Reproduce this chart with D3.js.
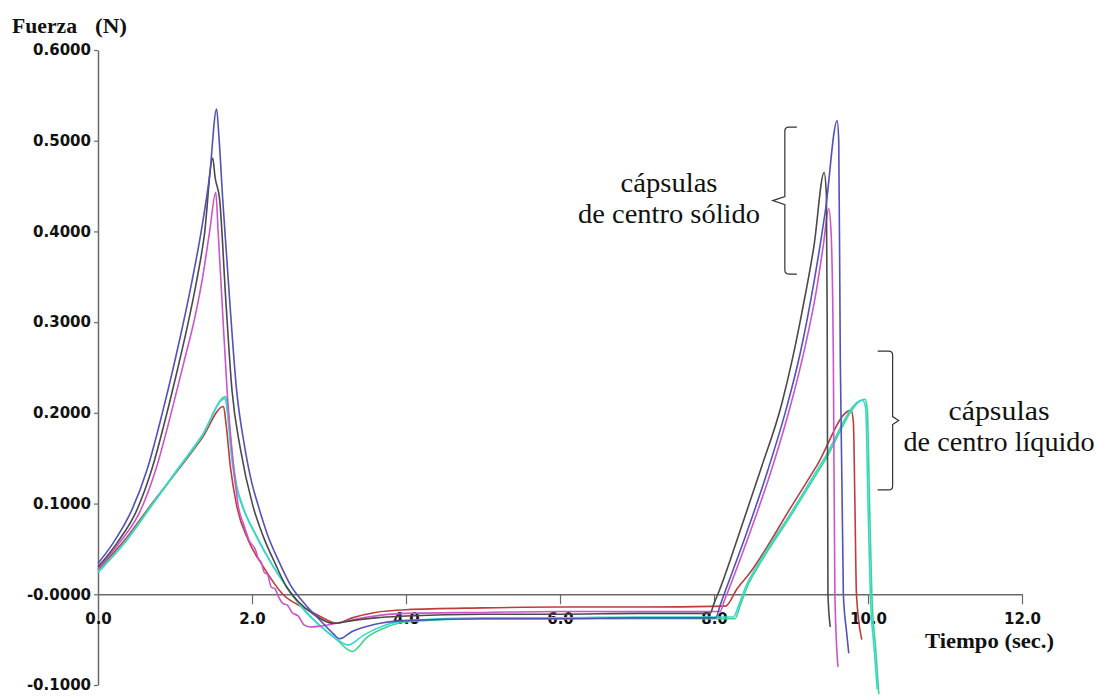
<!DOCTYPE html>
<html>
<head>
<meta charset="utf-8">
<script src="https://cdn.jsdelivr.net/npm/d3@7"></script>
<style>
  html, body { margin: 0; padding: 0; background: #fff; }
  svg { display: block; }
</style>
</head>
<body>
<svg id="chart" width="1098" height="697"></svg>
<script>
// ---------- DATA ----------
const xTicks = [0, 2, 4, 6, 8, 10, 12];
const xTickLabels = ["0.0", "2.0", "4.0", "6.0", "8.0", "10.0", "12.0"];
const yTicks = [-0.1, 0, 0.1, 0.2, 0.3, 0.4, 0.5, 0.6];
const yTickLabels = ["-0.1000", "-0.0000", "0.1000", "0.2000", "0.3000", "0.4000", "0.5000", "0.6000"];

// cápsulas de centro sólido
const solidBlue = [[0,0.034],[0.2,0.057],[0.44,0.093],[0.64,0.138],[0.83,0.198],[0.97,0.247],[1.10,0.296],[1.22,0.345],[1.34,0.4],[1.45,0.462],[1.54,0.535],[1.57,0.505],[1.62,0.435],[1.71,0.324],[1.80,0.225],[1.9,0.165],[2.0,0.122],[2.08,0.098],[2.2,0.066],[2.35,0.036],[2.5,0.01],[2.7,-0.012],[2.9,-0.03],[3.05,-0.043],[3.14,-0.049],[3.3,-0.041],[3.6,-0.033],[4.0,-0.029],[5,-0.027],[6,-0.027],[7,-0.026],[8.02,-0.026],[8.08,-0.012],[8.14,0.002],[8.4,0.062],[8.7,0.137],[8.95,0.208],[9.12,0.266],[9.3,0.345],[9.45,0.425],[9.60,0.522],[9.62,0.50],[9.64,0.26],[9.68,0.0],[9.72,-0.04],[9.75,-0.065]];
const solidBlack = [[0,0.03],[0.25,0.057],[0.5,0.092],[0.7,0.138],[0.89,0.198],[1.03,0.247],[1.16,0.295],[1.28,0.345],[1.38,0.395],[1.49,0.481],[1.52,0.46],[1.58,0.435],[1.66,0.324],[1.74,0.225],[1.85,0.16],[2.01,0.098],[2.15,0.063],[2.3,0.034],[2.45,0.008],[2.6,-0.008],[2.8,-0.022],[3.05,-0.032],[3.3,-0.029],[3.6,-0.026],[4.0,-0.024],[5,-0.022],[6,-0.022],[7,-0.021],[7.95,-0.021],[8.0,-0.01],[8.05,0.0],[8.3,0.06],[8.6,0.136],[8.88,0.21],[9.02,0.26],[9.14,0.31],[9.3,0.385],[9.43,0.465],[9.46,0.44],[9.47,0.3],[9.48,0.0],[9.51,-0.036]];
const solidMagenta = [[0,0.028],[0.28,0.057],[0.55,0.092],[0.76,0.14],[0.96,0.203],[1.11,0.254],[1.26,0.306],[1.36,0.35],[1.45,0.4],[1.53,0.443],[1.56,0.40],[1.61,0.324],[1.68,0.22],[1.75,0.15],[1.82,0.098],[1.9,0.075],[1.97,0.058],[2.04,0.05],[2.08,0.04],[2.12,0.035],[2.16,0.024],[2.2,0.022],[2.25,0.008],[2.3,0.006],[2.34,-0.002],[2.4,-0.01],[2.46,-0.012],[2.52,-0.02],[2.6,-0.024],[2.68,-0.034],[2.76,-0.036],[2.9,-0.035],[3.1,-0.032],[3.5,-0.025],[4.0,-0.021],[5,-0.02],[6,-0.019],[7,-0.019],[8.08,-0.019],[8.13,-0.008],[8.19,0.005],[8.45,0.064],[8.75,0.138],[9.0,0.21],[9.17,0.268],[9.33,0.335],[9.42,0.385],[9.49,0.425],[9.52,0.40],[9.55,0.26],[9.57,0.0],[9.61,-0.08]];

// cápsulas de centro líquido
const liquidRed = [[0,0.027],[0.35,0.06],[0.7,0.1],[1.05,0.138],[1.35,0.172],[1.63,0.207],[1.66,0.19],[1.72,0.14],[1.80,0.098],[1.95,0.06],[2.15,0.03],[2.4,0.0],[2.7,-0.016],[2.9,-0.025],[3.1,-0.032],[3.3,-0.026],[3.6,-0.02],[4.0,-0.017],[5,-0.015],[6,-0.014],[7,-0.014],[8.15,-0.013],[8.3,0.006],[8.47,0.024],[9.0,0.096],[9.33,0.141],[9.78,0.203],[9.81,0.19],[9.83,0.1],[9.85,0.0],[9.92,-0.05]];
const liquidGreen = [[0,0.024],[0.35,0.057],[0.7,0.098],[1.05,0.139],[1.35,0.174],[1.66,0.218],[1.69,0.2],[1.74,0.155],[1.8,0.12],[1.88,0.097],[2.06,0.064],[2.26,0.033],[2.46,0.007],[2.66,-0.016],[2.9,-0.036],[3.1,-0.05],[3.3,-0.063],[3.5,-0.047],[3.75,-0.036],[4.05,-0.03],[5,-0.027],[6,-0.027],[7,-0.027],[8.27,-0.027],[8.35,-0.01],[8.44,0.01],[8.57,0.03],[9.0,0.087],[9.43,0.146],[9.96,0.215],[9.99,0.205],[10.02,0.1],[10.05,0.0],[10.1,-0.06],[10.14,-0.11]];
const liquidCyan = [[0,0.025],[0.35,0.058],[0.7,0.099],[1.05,0.14],[1.35,0.175],[1.65,0.216],[1.68,0.2],[1.73,0.155],[1.79,0.12],[1.87,0.098],[2.05,0.065],[2.25,0.034],[2.45,0.008],[2.65,-0.014],[2.85,-0.032],[3.05,-0.046],[3.25,-0.056],[3.45,-0.045],[3.7,-0.035],[4.0,-0.029],[5,-0.026],[6,-0.026],[7,-0.025],[8.25,-0.025],[8.33,-0.01],[8.42,0.01],[8.55,0.03],[9.0,0.09],[9.42,0.148],[9.93,0.214],[9.97,0.205],[10.0,0.1],[10.03,0.0],[10.08,-0.06],[10.12,-0.105]];

const yTitle = ["Fuerza", "(N)"];
const xTitle = "Tiempo (sec.)";
const solidLabel = ["cápsulas", "de centro sólido"];
const liquidLabel = ["cápsulas", "de centro líquido"];

// ---------- STYLES / LAYOUT ----------
const series = [
  { data: liquidRed,    color: "#c03c3c" },
  { data: liquidGreen,  color: "#3ad886" },
  { data: liquidCyan,   color: "#3ad6d6" },
  { data: solidMagenta, color: "#cc55cc" },
  { data: solidBlack,   color: "#4a4a4a" },
  { data: solidBlue,    color: "#5252b8" }
];

const svg = d3.select("#chart");
const x = d3.scaleLinear().domain([0, 12]).range([98, 1022]);
const y = d3.scaleLinear().domain([-0.1, 0.6]).range([685, 50]);

const axisColor = "#6a6a6a";
const tickFont = "'DejaVu Sans', Verdana, sans-serif";
const serif = "'Liberation Serif', 'Times New Roman', 'DejaVu Serif', serif";

// Y axis
const yAxis = svg.append("g")
  .attr("transform", `translate(${x(0)},0)`)
  .call(d3.axisLeft(y).tickValues(yTicks)
    .tickFormat((d, i) => yTickLabels[i]).tickSizeInner(4).tickSizeOuter(0).tickPadding(3));
yAxis.select(".domain").attr("stroke", axisColor).attr("stroke-width", 1.5);
yAxis.selectAll(".tick line").attr("stroke", axisColor).attr("stroke-width", 1.2);
yAxis.selectAll(".tick text").attr("fill", "#111").style("font-family", tickFont)
  .style("font-weight", "bold").style("font-size", "15px");

// X axis at y = 0
const xAxis = svg.append("g")
  .attr("transform", `translate(0,${y(0)})`)
  .call(d3.axisBottom(x).tickValues(xTicks)
    .tickFormat((d, i) => xTickLabels[i]).tickSizeInner(10).tickSizeOuter(0).tickPadding(9));
xAxis.select(".domain").attr("stroke", axisColor).attr("stroke-width", 1.5);
xAxis.selectAll(".tick line").attr("stroke", axisColor).attr("stroke-width", 1.2);
xAxis.selectAll(".tick text").attr("fill", "#111").style("font-family", tickFont)
  .style("font-weight", "bold").style("font-size", "15px");
xAxis.selectAll(".tick").filter(d => d === 0).select("line").remove();

// Axis titles
svg.append("text").attr("x", 12).attr("y", 33).text(yTitle[0])
  .attr("textLength", 65).attr("lengthAdjust", "spacingAndGlyphs")
  .style("font-family", serif).style("font-weight", "bold").style("font-size", "21px").attr("fill", "#111");
svg.append("text").attr("x", 95).attr("y", 33).text(yTitle[1])
  .attr("textLength", 32).attr("lengthAdjust", "spacingAndGlyphs")
  .style("font-family", serif).style("font-weight", "bold").style("font-size", "21px").attr("fill", "#111");
svg.append("text").attr("x", 925).attr("y", 648).text(xTitle)
  .attr("textLength", 129).attr("lengthAdjust", "spacingAndGlyphs")
  .style("font-family", serif).style("font-weight", "bold").style("font-size", "21px").attr("fill", "#111");

// Curves
const line = d3.line().x(d => x(d[0])).y(d => y(d[1])).curve(d3.curveMonotoneX);
svg.append("g").selectAll("path").data(series).join("path")
  .attr("d", d => line(d.data))
  .attr("fill", "none")
  .attr("stroke", d => d.color)
  .attr("stroke-width", 1.6)
  .attr("stroke-linejoin", "round");

// Annotations
function label(lines, cx, y0, widths) {
  lines.forEach((t, i) => {
    svg.append("text").attr("x", cx).attr("y", y0 + i * 31).text(t)
      .attr("text-anchor", "middle")
      .attr("textLength", widths[i]).attr("lengthAdjust", "spacingAndGlyphs")
      .style("font-family", serif).style("font-size", "27px").attr("fill", "#111");
  });
}
label(solidLabel, 669, 192, [97, 182]);
label(liquidLabel, 999, 420, [101, 191]);

// Braces
const braceStroke = "#333";
// "{" for solid-centre capsules
{
  const bx = x(8.92), t = y(0.515), b = y(0.353), m = (t + b) / 2;
  svg.append("path")
    .attr("d", `M${bx+12},${t} L${bx+4},${t} Q${bx},${t} ${bx},${t+4} L${bx},${m-4} L${bx-12},${m} L${bx},${m+4} L${bx},${b-4} Q${bx},${b} ${bx+4},${b} L${bx+12},${b}`)
    .attr("fill", "none").attr("stroke", braceStroke).attr("stroke-width", 1.2);
}
// "}" for liquid-centre capsules
{
  const bx = x(10.32), t = y(0.268), b = y(0.115), m = (t + b) / 2;
  svg.append("path")
    .attr("d", `M${bx-15},${t} L${bx-4},${t} Q${bx},${t} ${bx},${t+4} L${bx},${m-4} L${bx+6},${m} L${bx},${m+4} L${bx},${b-4} Q${bx},${b} ${bx-4},${b} L${bx-15},${b}`)
    .attr("fill", "none").attr("stroke", braceStroke).attr("stroke-width", 1.2);
}
</script>
</body>
</html>
